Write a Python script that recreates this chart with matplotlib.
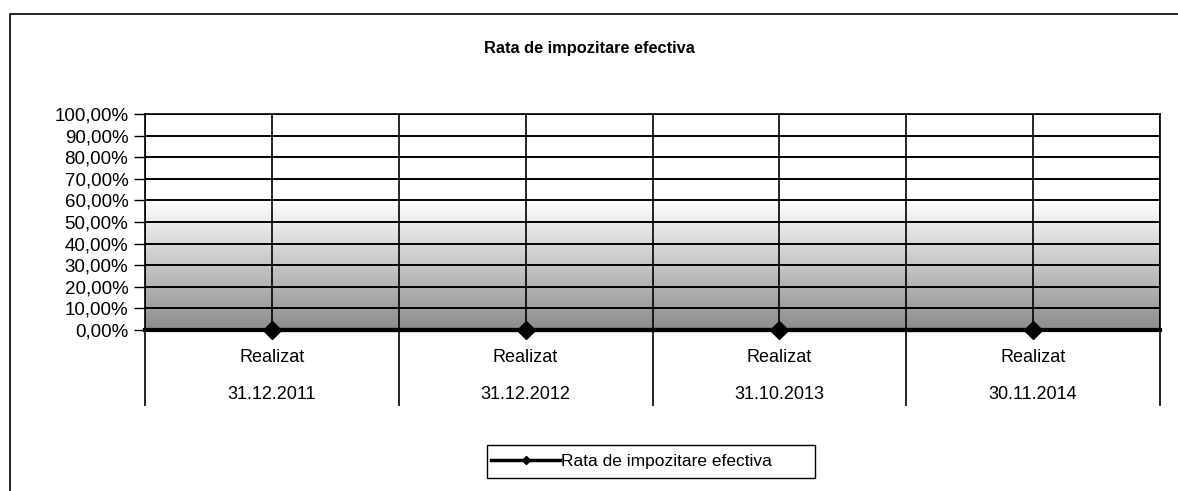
import numpy as np
import matplotlib
matplotlib.use("Agg")
import matplotlib.pyplot as plt
from matplotlib.patches import Rectangle
from matplotlib.ticker import FuncFormatter, MultipleLocator
import matplotlib.transforms as mtransforms

plt.rcParams['font.family'] = ['Liberation Sans', 'DejaVu Sans']

# date
perioade = ['Realizat\n\n31.12.2011', 'Realizat\n\n31.12.2012', 'Realizat\n\n31.10.2013', 'Realizat\n\n30.11.2014']
rata = [0.0, 0.0, 0.0, 0.0]
titlu = 'Rata de impozitare efectiva'

fig = plt.figure(figsize=(11.78, 4.91), dpi=100)
ax = fig.add_axes([145 / 1178, 1 - 330 / 491, (1160 - 145) / 1178, (330 - 114) / 491])

n = len(perioade)
x = np.arange(n) + 0.5

# fundal gri in degrade (mai inchis jos)
grad = np.linspace(0, 1, 200).reshape(-1, 1)
ton = np.clip(0.55 + 0.45 * grad / 0.6, 0, 1)
ax.imshow(np.dstack([ton, ton, ton]), extent=[0, n, 0, 100], origin='lower',
          aspect='auto', zorder=0, interpolation='bilinear')

ax.set_xlim(0, n)
ax.set_ylim(0, 100)

# grila
for yy in range(10, 101, 10):
    ax.axhline(yy, color='black', lw=1.4, zorder=1)
for xx in np.arange(0, n + 0.01, 0.5):
    ax.axvline(xx, color='black', lw=1.2, zorder=1)

# linii de separare sub axa
trans = mtransforms.blended_transform_factory(ax.transData, ax.transAxes)
ax.vlines(np.arange(0, n + 1), -0.35, 0, transform=trans, color='black', lw=1.2, clip_on=False)

ax.plot(x, rata, color='black', lw=3, marker='D', markersize=9, clip_on=False, zorder=5,
        label='Rata de impozitare efectiva')

ax.yaxis.set_major_locator(MultipleLocator(10))
ax.yaxis.set_major_formatter(FuncFormatter(lambda v, p: f'{v:.2f}'.replace('.', ',') + '%'))
ax.tick_params(axis='y', direction='out', length=8, width=1, labelsize=13.5, pad=4)
ax.set_xticks([])
for i, lab in enumerate(perioade):
    ax.text(x[i], -0.09, lab, transform=trans, ha='center', va='top', fontsize=13,
            linespacing=1.08)

for s in ax.spines.values():
    s.set_linewidth(1.2)
ax.spines['bottom'].set_linewidth(3)
ax.spines['bottom'].set_zorder(4)

fig.text(0.5, 1 - 48 / 491, titlu, ha='center', va='center', fontsize=11.8, fontweight='bold')

# chenar exterior
fig.patches.append(Rectangle((10 / 1178, -0.2), 1.2, 1.2 - 14 / 491, transform=fig.transFigure,
                             fill=False, edgecolor='black', lw=1.2))

# chenar legenda
fig.patches.append(Rectangle((487 / 1178, 1 - 478 / 491), 328 / 1178, 33 / 491,
                             transform=fig.transFigure, fill=False, edgecolor='black', lw=1))
leg = fig.legend(loc='center left', bbox_to_anchor=(491 / 1178, 1 - 461 / 491), frameon=False,
                 fontsize=12.5, handlelength=4.0, borderpad=0, handletextpad=0.05,
                 markerscale=0.4, borderaxespad=0)
leg.get_lines()[0].set_linewidth(2.5)

fig.savefig('out.png', dpi=100)
